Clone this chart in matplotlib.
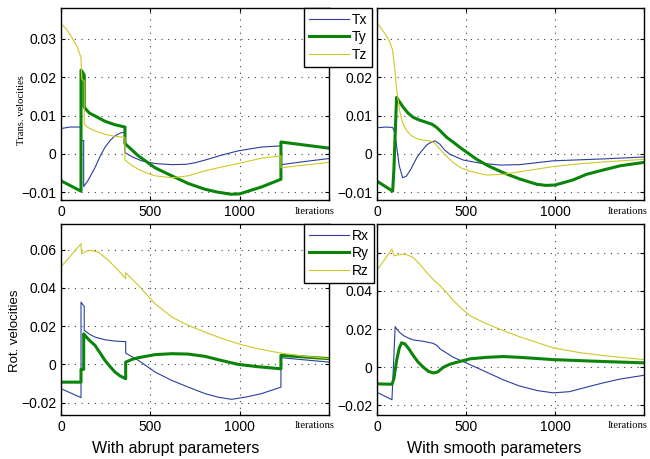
"""
Translational / rotational velocity comparison, abrupt vs smooth parameters.
Four panels, saved to out.png.
"""

import matplotlib
matplotlib.use("Agg")
import matplotlib.pyplot as plt

SANS = ["Liberation Sans", "DejaVu Sans"]
SERIF = ["Liberation Serif", "DejaVu Serif"]

BLUE = "#2a3f9e"
GREEN = "#0b840b"
YELLOW = "#cfc825"

# ---- translational velocities, abrupt parameters ----
tx_a_x = [0, 50, 112, 112, 127, 127, 150, 190, 220, 246, 275, 302, 330, 357, 357, 400, 452,
          526, 620, 700, 750, 806, 900, 992, 1123, 1231, 1231, 1360, 1500]
tx_a_y = [0.0066, 0.0070, 0.0070, 0.0035, 0.0035, -0.0085, -0.0070, -0.0036, -0.0005, 0.0017,
          0.0035, 0.0047, 0.0054, 0.0057, 0.0004, -0.0008, -0.0018, -0.0025, -0.0028, -0.0027,
          -0.0023, -0.0016, -0.0003, 0.0008, 0.0018, 0.0021, -0.0028, -0.0020, -0.0012]
ty_a_x = [0, 112, 112, 118, 130, 130, 140, 160, 190, 246, 302, 358, 358, 433, 526, 620, 712,
          806, 871, 950, 1000, 1123, 1231, 1231, 1500]
ty_a_y = [-0.0070, -0.0097, 0.0218, 0.0215, 0.0205, 0.0122, 0.0116, 0.0106, 0.0099, 0.0085,
          0.0076, 0.0070, 0.0027, -0.0005, -0.0036, -0.0057, -0.0077, -0.0092, -0.0099, -0.0105,
          -0.0104, -0.0086, -0.0066, 0.0031, 0.0015]
tz_a_x = [0, 30, 60, 90, 112, 116, 130, 130, 150, 190, 246, 302, 358, 358, 400, 433, 480, 526,
          620, 712, 806, 900, 992, 1123, 1231, 1231, 1500]
tz_a_y = [0.0340, 0.0325, 0.0304, 0.0280, 0.0251, 0.0195, 0.0190, 0.0077, 0.0069, 0.0060,
          0.0051, 0.0046, 0.0043, -0.0016, -0.0031, -0.0040, -0.0050, -0.0057, -0.0062, -0.0057,
          -0.0044, -0.0034, -0.0025, -0.0011, -0.0005, -0.0036, -0.0022]

# ---- translational velocities, smooth parameters ----
tx_s_x = [0, 50, 88, 100, 110, 125, 144, 165, 190, 223, 250, 279, 305, 326, 354, 380, 410,
          450, 485, 579, 691, 800, 989, 1270, 1500]
tx_s_y = [0.0068, 0.0070, 0.0069, 0.0055, 0.0021, -0.0031, -0.0062, -0.0058, -0.0040, -0.0010,
          0.0007, 0.0023, 0.0031, 0.0034, 0.0025, 0.0010, -0.0001, -0.0009, -0.0016, -0.0024,
          -0.0029, -0.0028, -0.0018, -0.0013, -0.0008]
ty_s_x = [0, 88, 95, 101, 110, 120, 148, 175, 204, 240, 279, 310, 335, 360, 392, 430, 466, 560,
          620, 710, 800, 897, 950, 1000, 1100, 1178, 1270, 1365, 1500]
ty_s_y = [-0.0071, -0.0097, -0.0040, 0.0038, 0.0147, 0.0140, 0.0121, 0.0106, 0.0095, 0.0088,
          0.0082, 0.0077, 0.0069, 0.0058, 0.0043, 0.0030, 0.0017, -0.0014, -0.0030, -0.0049,
          -0.0065, -0.0079, -0.0082, -0.0081, -0.0068, -0.0053, -0.0042, -0.0031, -0.0022]
tz_s_x = [0, 45, 70, 88, 100, 110, 129, 145, 167, 195, 223, 260, 298, 325, 354, 390, 429, 470,
          522, 616, 710, 850, 989, 1130, 1270, 1500]
tz_s_y = [0.0342, 0.0313, 0.0293, 0.0270, 0.0220, 0.0169, 0.0108, 0.0080, 0.0060, 0.0047,
          0.0040, 0.0036, 0.0034, 0.0028, 0.0012, -0.0006, -0.0023, -0.0036, -0.0045, -0.0055,
          -0.0053, -0.0043, -0.0033, -0.0026, -0.0021, -0.0014]

# ---- rotational velocities, abrupt parameters ----
rx_a_x = [0, 112, 112, 125, 130, 130, 160, 190, 246, 302, 362, 362, 433, 526, 620, 712, 806,
          880, 955, 1040, 1123, 1231, 1231, 1500]
rx_a_y = [-0.0127, -0.0174, 0.0326, 0.0309, 0.0305, 0.0178, 0.0158, 0.0143, 0.0129, 0.0122,
          0.0119, 0.0059, 0.0021, -0.0040, -0.0084, -0.0119, -0.0153, -0.0172, -0.0183, -0.0170,
          -0.0153, -0.0119, 0.0035, 0.0012]
ry_a_x = [0, 112, 112, 127, 127, 140, 160, 190, 220, 246, 275, 302, 330, 362, 362, 400, 433,
          526, 620, 712, 806, 900, 992, 1100, 1231, 1231, 1500]
ry_a_y = [-0.0093, -0.0093, -0.0026, -0.0026, 0.0160, 0.0145, 0.0125, 0.0100, 0.0058, 0.0021,
          -0.0012, -0.0040, -0.0060, -0.0075, 0.0012, 0.0027, 0.0035, 0.0051, 0.0056, 0.0054,
          0.0042, 0.0020, 0.0000, -0.0012, -0.0023, 0.0047, 0.0030]
rz_a_x = [0, 112, 115, 140, 162, 209, 265, 321, 362, 362, 433, 480, 526, 620, 712, 806, 900,
          992, 1100, 1231, 1360, 1500]
rz_a_y = [0.0510, 0.0632, 0.0580, 0.0592, 0.0597, 0.0588, 0.0545, 0.0492, 0.0449, 0.0480,
          0.0414, 0.0365, 0.0318, 0.0248, 0.0204, 0.0169, 0.0136, 0.0108, 0.0082, 0.0059,
          0.0043, 0.0030]

# ---- rotational velocities, smooth parameters ----
rx_s_x = [0, 84, 102, 110, 130, 148, 176, 204, 260, 316, 340, 354, 390, 429, 522, 616, 710,
          800, 900, 990, 1080, 1178, 1270, 1365, 1500]
rx_s_y = [-0.0131, -0.0170, 0.0213, 0.0200, 0.0180, 0.0166, 0.0153, 0.0143, 0.0136, 0.0125,
          0.0112, 0.0096, 0.0075, 0.0052, 0.0014, -0.0026, -0.0066, -0.0098, -0.0122, -0.0134,
          -0.0128, -0.0104, -0.0082, -0.0062, -0.0042]
ry_s_x = [0, 84, 95, 110, 125, 138, 157, 180, 204, 230, 260, 290, 318, 340, 373, 410, 448, 522,
          616, 710, 800, 991, 1271, 1500]
ry_s_y = [-0.0087, -0.0089, -0.0060, 0.0035, 0.0100, 0.0128, 0.0122, 0.0095, 0.0061, 0.0028,
          0.0000, -0.0022, -0.0030, -0.0025, 0.0000, 0.0016, 0.0026, 0.0044, 0.0052, 0.0056,
          0.0052, 0.0040, 0.0030, 0.0023]
rz_s_x = [0, 45, 84, 96, 120, 148, 175, 204, 240, 279, 320, 354, 390, 429, 475, 522, 616, 710,
          800, 991, 1130, 1271, 1500]
rz_s_y = [0.0509, 0.0566, 0.0618, 0.0583, 0.0588, 0.0592, 0.0587, 0.0574, 0.0540, 0.0496,
          0.0455, 0.0427, 0.0392, 0.0348, 0.0308, 0.0270, 0.0227, 0.0192, 0.0160, 0.0101,
          0.0078, 0.0061, 0.0040]

x_ticks = [0, 500, 1000, 1500]
x_tick_labels = ["0", "500", "1000", ""]
trans_ticks = [-0.01, 0, 0.01, 0.02, 0.03]
trans_tick_labels = ["\u22120.01", "0", "0.01", "0.02", "0.03"]
rot_ticks = [-0.02, 0, 0.02, 0.04, 0.06]
rot_tick_labels = ["\u22120.02", "0", "0.02", "0.04", "0.06"]

W, H = 650, 459


def px_rect(left, top, right, bottom):
    return [left / W, 1 - bottom / H, (right - left) / W, (bottom - top) / H]


def style_axes(ax, yticks, ylabels, ylim):
    ax.set_xlim(0, 1500)
    ax.set_ylim(*ylim)
    ax.set_xticks(x_ticks)
    ax.set_xticklabels(x_tick_labels, family=SANS, fontsize=10)
    ax.set_yticks(yticks)
    ax.set_yticklabels(ylabels, family=SANS, fontsize=10)
    ax.tick_params(direction="in", length=3, width=0.8, top=True, right=True, pad=3.5)
    ax.grid(True, color="0.25", linestyle=(0, (1, 5)), linewidth=0.8)
    for sp in ax.spines.values():
        sp.set_linewidth(1.0)
        sp.set_color("black")


def draw_panel(ax, curves):
    lines = []
    for (xs, ys), color, lw in zip(curves, [BLUE, GREEN, YELLOW], [0.8, 2.2, 0.8]):
        (ln,) = ax.plot(xs, ys, color=color, linewidth=lw)
        lines.append(ln)
    return lines


def main() -> None:
    fig = plt.figure(figsize=(6.5, 4.59), dpi=100)

    ax_ta = fig.add_axes(px_rect(61, 8, 329, 200))
    ax_ts = fig.add_axes(px_rect(377, 8, 644, 200))
    ax_ra = fig.add_axes(px_rect(61, 224, 329, 415))
    ax_rs = fig.add_axes(px_rect(377, 224, 644, 415))

    t_lines = draw_panel(ax_ta, [(tx_a_x, tx_a_y), (ty_a_x, ty_a_y), (tz_a_x, tz_a_y)])
    draw_panel(ax_ts, [(tx_s_x, tx_s_y), (ty_s_x, ty_s_y), (tz_s_x, tz_s_y)])
    r_lines = draw_panel(ax_ra, [(rx_a_x, rx_a_y), (ry_a_x, ry_a_y), (rz_a_x, rz_a_y)])
    draw_panel(ax_rs, [(rx_s_x, rx_s_y), (ry_s_x, ry_s_y), (rz_s_x, rz_s_y)])

    style_axes(ax_ta, trans_ticks, trans_tick_labels, (-0.012, 0.038))
    # top label of the right column sits under the legend box
    style_axes(ax_ts, trans_ticks, trans_tick_labels[:-1] + [""], (-0.012, 0.038))
    style_axes(ax_ra, rot_ticks, rot_tick_labels, (-0.0265, 0.0735))
    style_axes(ax_rs, rot_ticks, rot_tick_labels[:-1] + [""], (-0.025, 0.075))

    # legends sit across the gap between the two columns
    for lines, names, top in ((t_lines, ["Tx", "Ty", "Tz"], 8), (r_lines, ["Rx", "Ry", "Rz"], 224)):
        leg = fig.legend(lines, names, loc="upper left",
                         bbox_to_anchor=(304 / W, 1 - top / H), borderaxespad=0,
                         prop={"family": SANS, "size": 10}, fancybox=False,
                         framealpha=1, edgecolor="black", handlelength=2.9,
                         handletextpad=0.2, labelspacing=0.25, borderpad=0.35)
        leg.get_frame().set_linewidth(1.0)

    fig.text(21 / W, 1 - 110 / H, "Trans. velocities", rotation=90, ha="center", va="center",
             family=SERIF, fontsize=7.7)
    fig.text(15 / W, 1 - 331 / H, "Rot. velocities", rotation=90, ha="center", va="center",
             family=SANS, fontsize=9.5)

    for x0, y0 in ((295, 211), (608, 211), (295, 425), (608, 425)):
        fig.text(x0 / W, 1 - y0 / H, "Iterations", ha="left", va="center",
                 family=SERIF, fontsize=7.6)

    fig.text(175.5 / W, 1 - 448 / H, "With abrupt parameters", ha="center", va="center",
             family=SANS, fontsize=11.5)
    fig.text(494.5 / W, 1 - 448 / H, "With smooth parameters", ha="center", va="center",
             family=SANS, fontsize=11.5)

    fig.savefig("out.png", dpi=100)
    plt.close(fig)


if __name__ == "__main__":
    main()
